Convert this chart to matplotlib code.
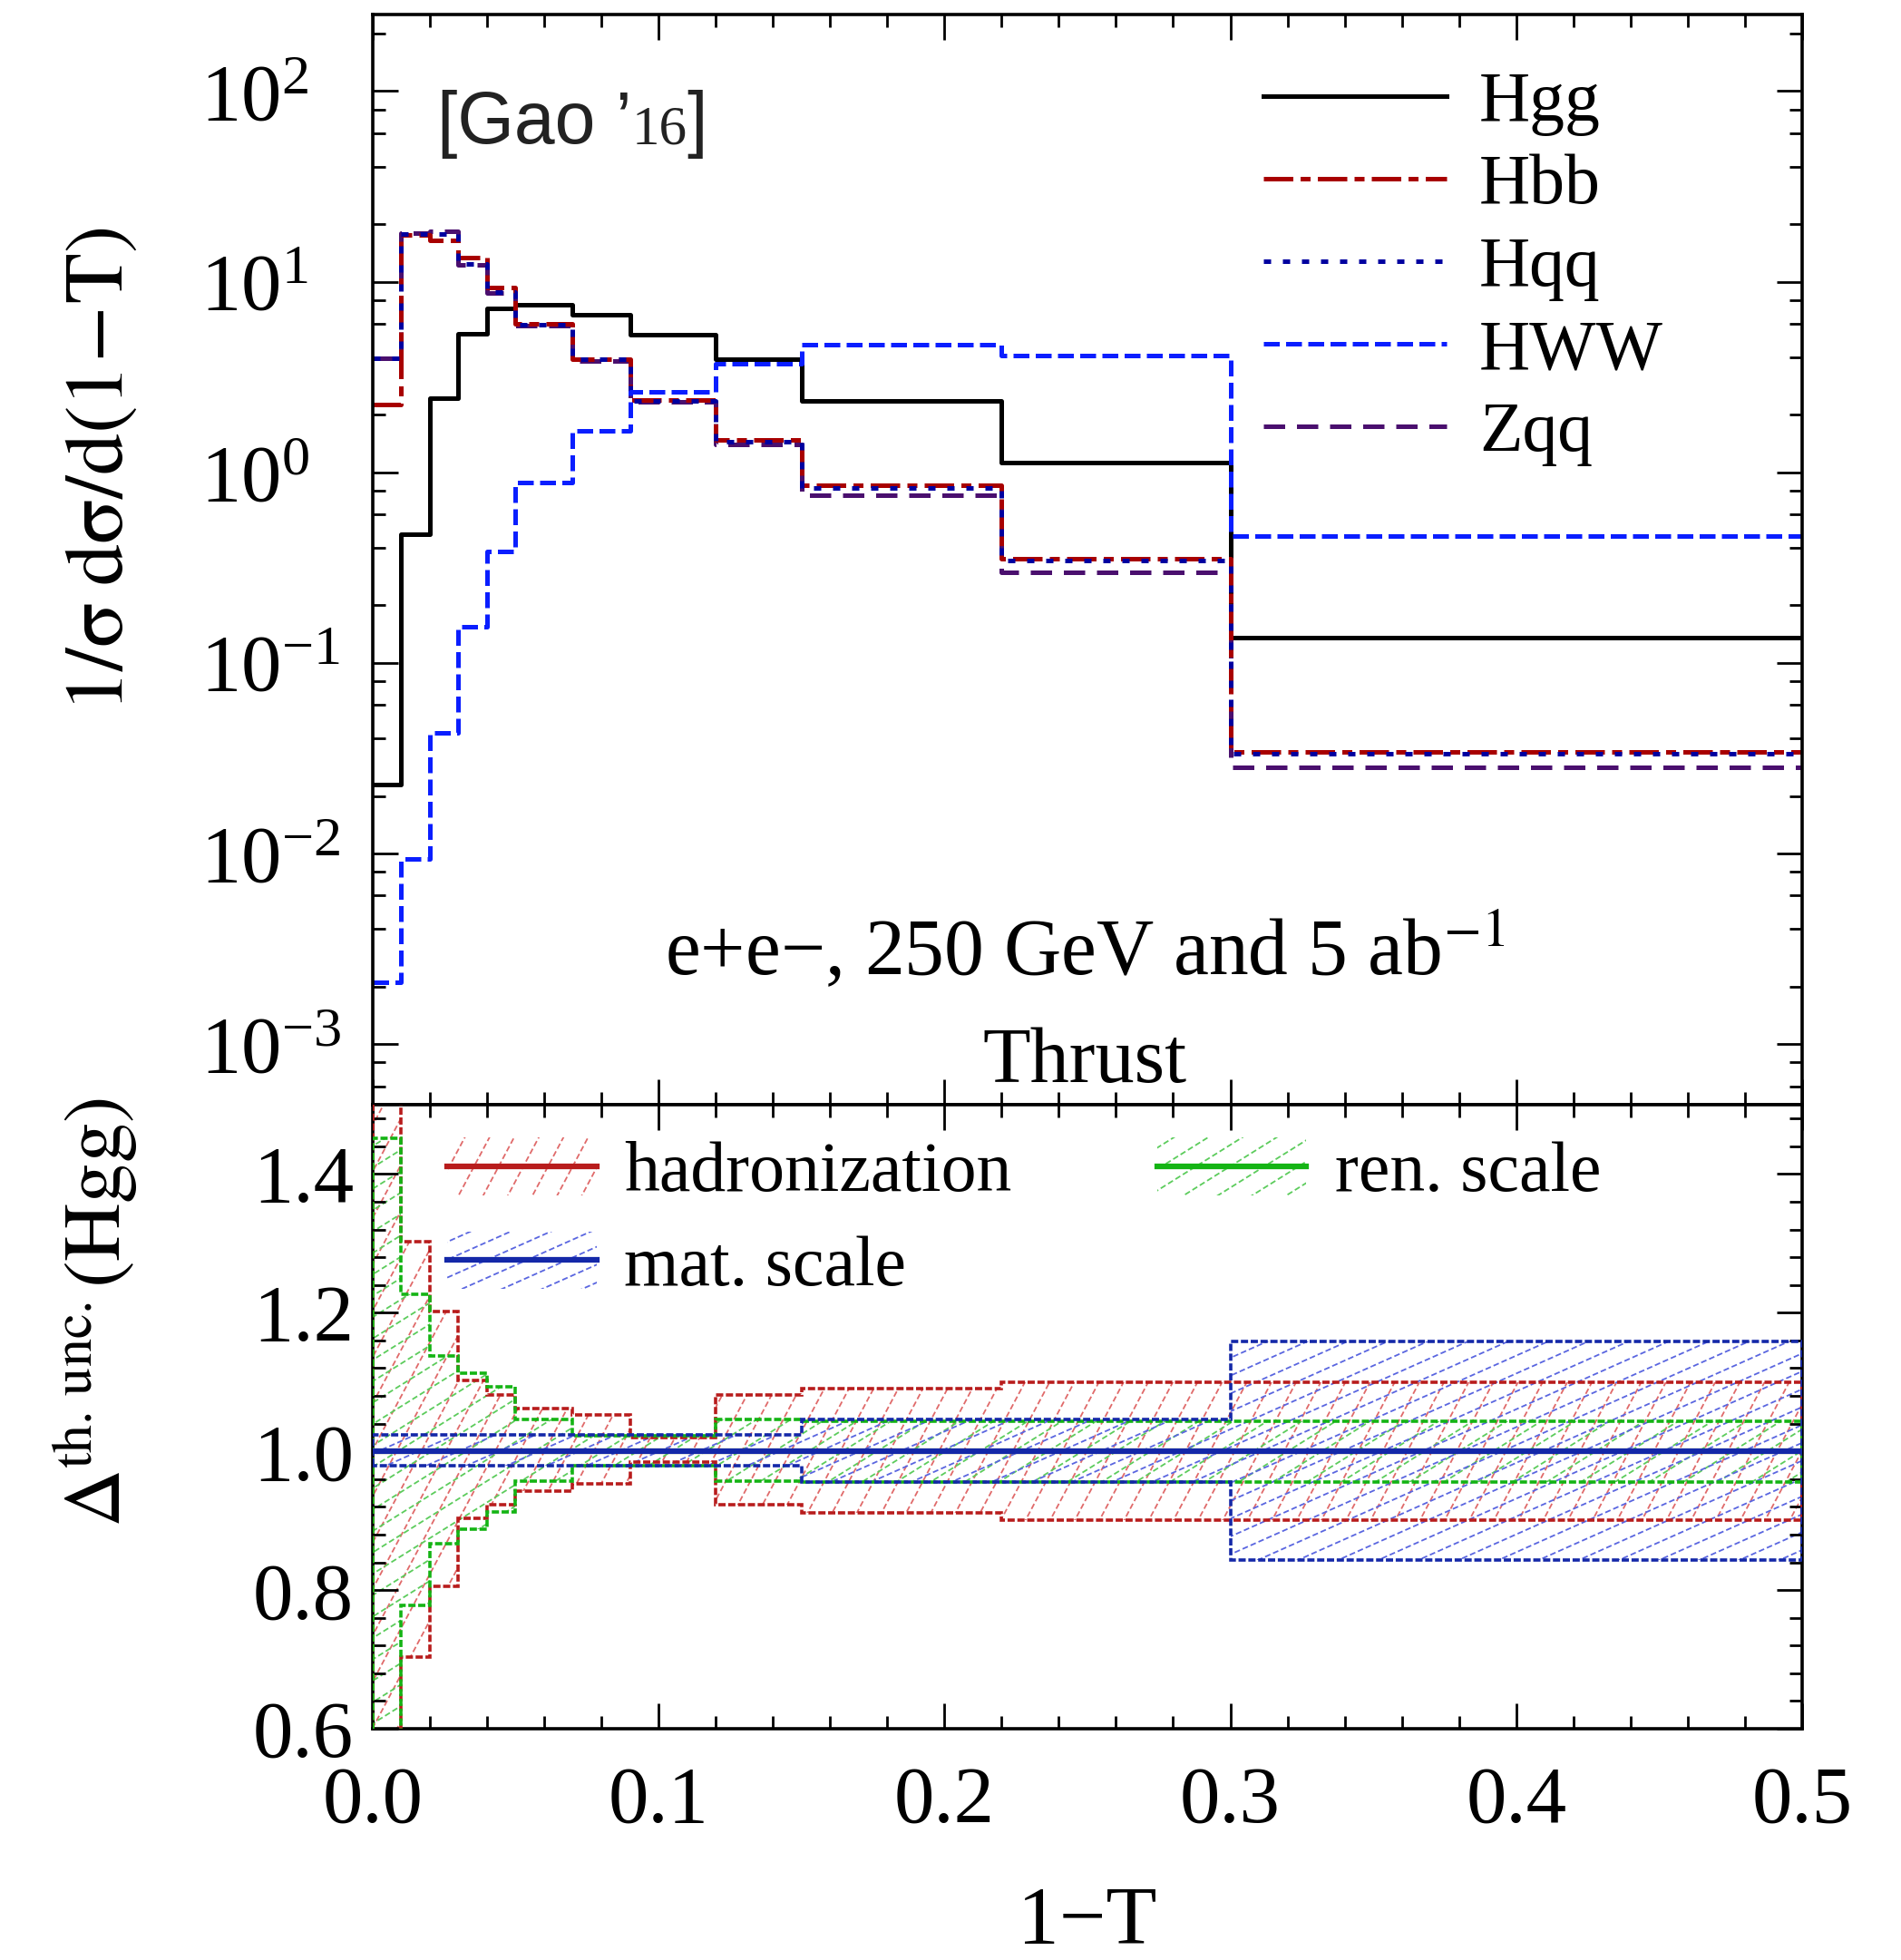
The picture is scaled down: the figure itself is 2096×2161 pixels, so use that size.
import numpy as np
import matplotlib
matplotlib.use('Agg')
import matplotlib.pyplot as plt
from matplotlib.collections import LineCollection
from matplotlib.patches import Rectangle
from matplotlib.ticker import LogLocator, MultipleLocator, FormatStrFormatter, NullFormatter
from matplotlib.offsetbox import TextArea, HPacker, AnchoredOffsetbox

plt.rcParams['font.family'] = ['Liberation Serif', 'DejaVu Serif']
plt.rcParams['mathtext.fontset'] = 'stix'

# --- bins in 1-T ---
edges = [0.0, 0.01, 0.02, 0.03, 0.04, 0.05, 0.07, 0.09, 0.12, 0.15, 0.22, 0.30, 0.50]

# --- upper panel: normalised distributions ---
hgg = [0.023, 0.475, 2.44, 5.3, 7.25, 7.6, 6.7, 5.25, 3.9, 2.38, 1.12, 0.135]
hbb = [2.27, 17.5, 16.5, 13.4, 9.3, 6.0, 3.92, 2.40, 1.48, 0.857, 0.351, 0.0342]
hqq = [3.98, 17.8, 17.8, 12.4, 8.8, 5.95, 3.90, 2.36, 1.45, 0.83, 0.344, 0.0333]
hww = [0.0021, 0.0093, 0.043, 0.155, 0.385, 0.88, 1.65, 2.63, 3.7, 4.65, 4.1, 0.461]
zqq = [3.98, 18.0, 18.3, 12.3, 8.7, 5.9, 3.85, 2.33, 1.40, 0.755, 0.298, 0.0283]

# --- lower panel: relative uncertainty bands for Hgg ---
had_up = [1.60, 1.302, 1.202, 1.102, 1.082, 1.062, 1.052, 1.020, 1.082, 1.091, 1.100, 1.100]
had_dn = [0.40, 0.703, 0.805, 0.903, 0.923, 0.943, 0.953, 0.984, 0.923, 0.911, 0.901, 0.901]
ren_up = [1.452, 1.227, 1.137, 1.113, 1.093, 1.046, 1.023, 1.023, 1.046, 1.043, 1.043, 1.043]
ren_dn = [0.40, 0.778, 0.867, 0.888, 0.913, 0.957, 0.979, 0.979, 0.957, 0.956, 0.956, 0.956]
mat_up = [1.024, 1.024, 1.024, 1.024, 1.024, 1.024, 1.024, 1.024, 1.024, 1.046, 1.046, 1.159]
mat_dn = [0.979, 0.979, 0.979, 0.979, 0.979, 0.979, 0.979, 0.979, 0.979, 0.956, 0.956, 0.843]
central = [1.0] * 12

FIG_W, FIG_H = 20.96, 21.61
AX_L, AX_W = 0.196, 0.752
fig = plt.figure(figsize=(FIG_W, FIG_H), dpi=100)
ax1 = fig.add_axes([AX_L, 0.4364, AX_W, 0.556])
ax2 = fig.add_axes([AX_L, 0.118, AX_W, 0.3184])
W2 = AX_W * FIG_W * 100
H2 = 0.3184 * FIG_H * 100

TICK_FS = 64


def steps(v):
    return np.append(v, v[-1])


def style(ax):
    for s in ax.spines.values():
        s.set_linewidth(2.6)
    ax.tick_params(which='both', direction='in', top=True, right=True, width=2.0,
                   labelsize=TICK_FS)
    ax.tick_params(which='major', length=20)
    ax.tick_params(which='minor', length=10)


def add_hatch(ax, clip, color, angle, step, wpx, hpx, axes_box=True):
    # dashed hatch lines, straight in pixel space, clipped to a patch
    a = np.radians(angle)
    d = np.array([np.cos(a), np.sin(a)])
    nrm = np.array([-np.sin(a), np.cos(a)])
    corners = np.array([[0, 0], [wpx, 0], [0, hpx], [wpx, hpx]])
    pn = corners @ nrm
    pd = corners @ d
    segs = []
    for c in np.arange(pn.min(), pn.max() + step, step):
        p0 = nrm * c + d * pd.min()
        p1 = nrm * c + d * pd.max()
        segs.append([p0 / [wpx, hpx], p1 / [wpx, hpx]])
    lc = LineCollection(segs, colors=color, linewidths=1.3,
                        linestyles=[(0, (3.5, 1.8))], transform=ax.transAxes, zorder=1)
    ax.add_collection(lc, autolim=False)
    lc.set_clip_path(clip)
    if axes_box:
        lc.set_clip_box(ax.bbox)
    return lc


# ---------------- upper panel ----------------
ax1.plot(edges, steps(hgg), color='black', lw=3.6, drawstyle='steps-post', label='Hgg')
ax1.plot(edges, steps(zqq), color='#4a0f6e', lw=3.6, drawstyle='steps-post',
         dashes=(4.7, 2.6), label='Zqq')
ax1.plot(edges, steps(hbb), color='#a80000', lw=3.6, drawstyle='steps-post',
         dashes=(6.5, 1.6, 2.2, 1.6), label='Hbb')
ax1.plot(edges, steps(hqq), color='#0000a0', lw=3.6, drawstyle='steps-post',
         dashes=(1.6, 2.6), label='Hqq')
ax1.plot(edges, steps(hww), color='#0a1eff', lw=3.6, drawstyle='steps-post',
         dashes=(3.5, 1.4), label='HWW')

ax1.set_yscale('log')
ax1.set_xlim(0, 0.5)
ax1.set_ylim(4.8e-4, 251)
style(ax1)
ax1.set_yticks([1e-3, 1e-2, 1e-1, 1e0, 1e1, 1e2])
ax1.yaxis.set_minor_locator(LogLocator(base=10, subs=(2, 4, 6, 8), numticks=30))
ax1.yaxis.set_minor_formatter(NullFormatter())
ax1.xaxis.set_major_locator(MultipleLocator(0.1))
ax1.xaxis.set_minor_locator(MultipleLocator(0.02))
ax1.tick_params(axis='x', labelbottom=False)
ax1.tick_params(axis='y', pad=137)
for lbl in ax1.get_yticklabels():
    lbl.set_horizontalalignment('left')

h, l = ax1.get_legend_handles_labels()
order = ['Hgg', 'Hbb', 'Hqq', 'HWW', 'Zqq']
hd = {lab: hh for hh, lab in zip(h, l)}
ax1.legend([hd[o] for o in order], order, loc='upper left', bbox_to_anchor=(0.623, 0.948),
           frameon=False, fontsize=56, handlelength=2.6, handletextpad=0.46,
           labelspacing=0.25, borderpad=0, borderaxespad=0)

ax1.set_ylabel(r'$\mathrm{1/\sigma\;d\sigma/d(1\!-\!T)}$', fontsize=66)
ax1.yaxis.set_label_coords(-0.163, 0.583)

ax1.text(0.498, 0.119, 'e+e−, 250 GeV and 5 ab$^{-1}$', transform=ax1.transAxes,
         ha='center', va='baseline', fontsize=63)
ax1.text(0.498, 0.021, 'Thrust', transform=ax1.transAxes,
         ha='center', va='baseline', fontsize=62)

gao = HPacker(children=[TextArea('[Gao ’', textprops=dict(family='Liberation Sans', size=58, color='#222222')),
                        TextArea('16', textprops=dict(family='Liberation Serif', size=44, color='#222222')),
                        TextArea(']', textprops=dict(family='Liberation Sans', size=58, color='#222222'))],
              align='baseline', pad=0, sep=0)
ax1.add_artist(AnchoredOffsetbox(loc='lower left', child=gao, pad=0, borderpad=0, frameon=False,
                                 bbox_to_anchor=(0.045, 0.868), bbox_transform=ax1.transAxes))

# ---------------- lower panel ----------------
bands = [
    ('hadronization', had_up, had_dn, '#b81c1c', '#e06a6a', 62, 24),
    ('ren. scale', ren_up, ren_dn, '#14b414', '#5ccc5c', 32, 20),
    ('mat. scale', mat_up, mat_dn, '#1428a8', '#5a66e0', 24, 18),
]
for name, up, dn, col, hcol, ang, stp in bands:
    sp = ax2.stairs(up, edges, baseline=dn, fill=False, edgecolor=col, lw=2.6,
                    linestyle=(0, (2.2, 0.8)), zorder=3)
    add_hatch(ax2, sp, hcol, ang, stp, W2, H2)
for name, up, dn, col, hcol, ang, stp in bands:
    ax2.stairs(central, edges, baseline=None, color=col, lw=4.4, zorder=4)

ax2.set_xlim(0, 0.5)
ax2.set_ylim(0.6, 1.5)
style(ax2)
ax2.set_yticks([0.6, 0.8, 1.0, 1.2, 1.4])
ax2.yaxis.set_major_formatter(FormatStrFormatter('%.1f'))
ax2.yaxis.set_minor_locator(MultipleLocator(0.04))
ax2.xaxis.set_major_locator(MultipleLocator(0.1))
ax2.xaxis.set_minor_locator(MultipleLocator(0.02))
ax2.xaxis.set_major_formatter(FormatStrFormatter('%.1f'))
ax2.tick_params(axis='y', pad=15)
ax2.tick_params(axis='x', pad=29)

ax2.set_xlabel('1−T', fontsize=66)
ax2.xaxis.set_label_coords(0.5, -0.252)
ax2.set_ylabel(r'$\Delta^{\mathrm{th.\,unc.}}(\mathrm{Hgg})$', fontsize=64)
ax2.yaxis.set_label_coords(-0.163, 0.667)

# legend of the bands (hatched swatch + solid line), two columns
leg_pos = {'hadronization': (0.052, 0.157, 0.901, 0.176),
           'mat. scale': (0.052, 0.157, 0.751, 0.176),
           'ren. scale': (0.549, 0.653, 0.901, 0.673)}
for name, up, dn, col, hcol, ang, stp in bands:
    x0, x1, yc, xt = leg_pos[name]
    box = Rectangle((x0, yc - 0.046), x1 - x0, 0.092, transform=ax2.transAxes)
    add_hatch(ax2, box, hcol, ang, stp, W2, H2, axes_box=False)
    ax2.plot([x0, x1], [yc, yc], color=col, lw=4.5, transform=ax2.transAxes, zorder=5)
    ax2.text(xt, yc, name, transform=ax2.transAxes, fontsize=56, va='center_baseline', ha='left')

fig.savefig('out.png', dpi=100)
